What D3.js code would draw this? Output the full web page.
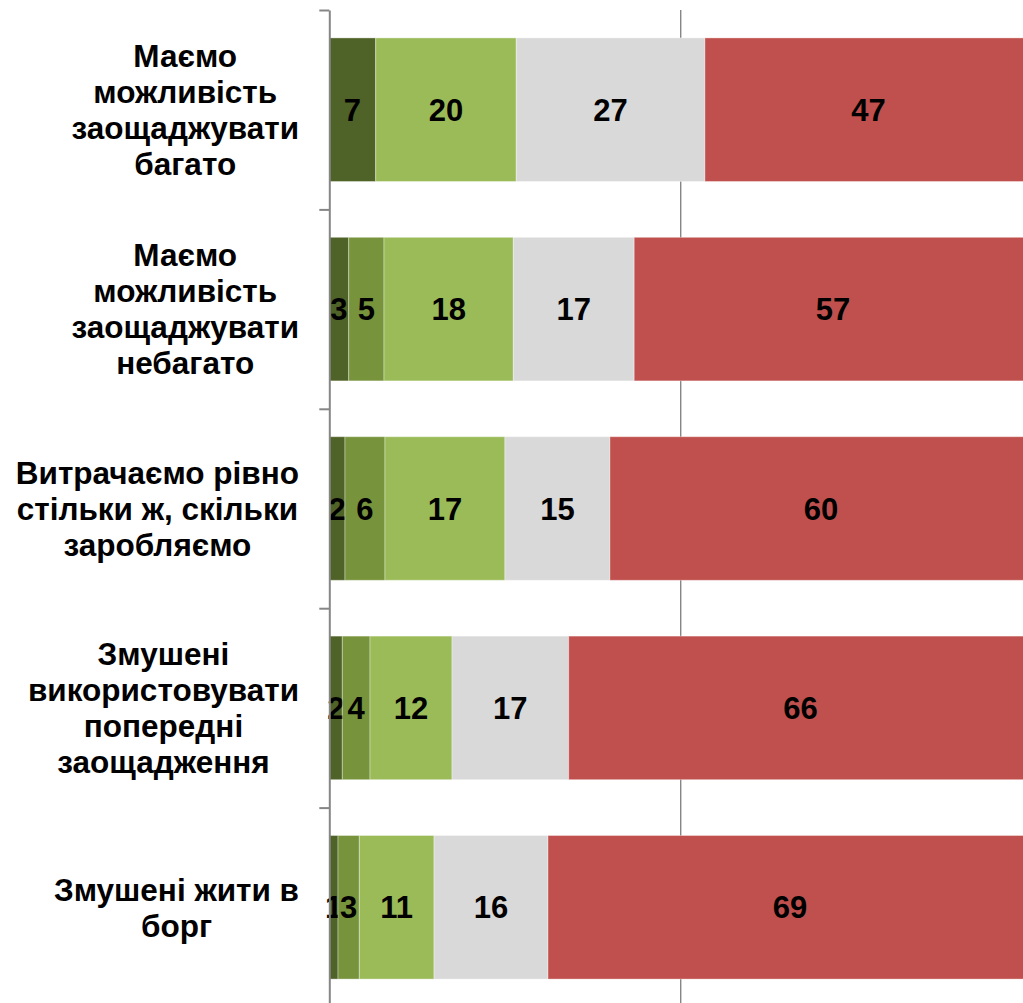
<!DOCTYPE html>
<html>
<head>
<meta charset="utf-8">
<title>Заощадження</title>
<script src="https://d3js.org/d3.v7.min.js"></script>
<style>
body {
	margin: 0;
	background-color: white;
}
svg {
	display: block;
	font-family: "Liberation Sans", Arial, sans-serif;
	font-weight: bold;
}
.axis path, .axis line {
	stroke: #868686;
	stroke-width: 2;
}
.grid {
	stroke: #868686;
	stroke-width: 1.4;
}
.seg {
	stroke: #fff;
	stroke-opacity: 0.35;
	stroke-width: 1;
}
.cat {
	font-size: 31.5px;
	fill: black;
}
.val {
	font-size: 31px;
	fill: black;
}
</style>
</head>
<body>
<script>
/* globals d3 */
const categories = [
	["Маємо", "можливість", "заощаджувати", "багато"],
	["Маємо", "можливість", "заощаджувати", "небагато"],
	["Витрачаємо рівно", "стільки ж, скільки", "заробляємо"],
	["Змушені", "використовувати", "попередні", "заощадження"],
	["Змушені жити в", "борг"],
];
const seriesNames = ["s1", "s2", "s3", "s4", "s5"];
const s1 = [6.6, 2.76, 2.23, 1.85, 1.24];
const s2 = [0, 5.02, 5.69, 3.94, 3.03];
const s3 = [20.0, 18.4, 17.07, 11.67, 10.63];
const s4 = [26.85, 17.2, 14.94, 16.6, 16.22];
const s5 = [46.6, 56.6, 60.07, 66.0, 68.9];
const colors = ["#4f6228", "#77933c", "#9bbb59", "#d9d9d9", "#c0504d"];
const gridValues = [50];

(function() {
"use strict";
function main()
{
	const width = 1023, height = 1003;
	const margin = {top: 10, left: 329.3, bottom: -4};
	const labelRight = 299;

	const rows = categories.map((c, i) => ({
		i: i, s1: s1[i], s2: s2[i], s3: s3[i], s4: s4[i], s5: s5[i]
	}));
	const stack = d3.stack().keys(seriesNames)(rows);

	const x = d3.scaleLinear([0, 100], [margin.left, margin.left + 702.8]);
	const y = d3.scaleBand(d3.range(categories.length), [margin.top, height - margin.bottom])
		.paddingInner(0.28)
		.paddingOuter(0.14);
	const yEdge = d3.scaleLinear([0, categories.length], [margin.top, height - margin.bottom]);

	const svg = d3.select("body")
		.append("svg")
			.attr("width", width)
			.attr("height", height);

	svg.selectAll("line.grid")
		.data(gridValues)
		.join("line")
			.attr("class", "grid")
			.attr("x1", d => x(d))
			.attr("x2", d => x(d))
			.attr("y1", margin.top)
			.attr("y2", height);

	const layer = svg.selectAll("g.layer")
		.data(stack)
		.join("g")
			.attr("class", "layer")
			.attr("fill", (d, i) => colors[i]);

	layer.selectAll("rect")
		.data(d => d.filter(p => p[1] > p[0]))
		.join("rect")
			.attr("class", "seg")
			.attr("x", d => x(d[0]))
			.attr("y", d => y(d.data.i))
			.attr("width", d => x(d[1]) - x(d[0]))
			.attr("height", y.bandwidth());

	layer.selectAll("text")
		.data(d => d.filter(p => p[1] > p[0]))
		.join("text")
			.attr("class", "val")
			.attr("text-anchor", "middle")
			.attr("dy", "0.36em")
			.attr("x", d => (x(d[0]) + x(Math.min(d[1], 100))) / 2)
			.attr("y", d => y(d.data.i) + y.bandwidth() / 2)
			.text(d => Math.round(d[1] - d[0]));

	svg.append("g")
		.attr("class", "axis")
		.attr("transform", "translate(" + margin.left + ",0)")
		.call(d3.axisLeft(yEdge)
			.tickValues(d3.range(categories.length + 1))
			.tickFormat("")
			.tickSize(10)
			.tickSizeOuter(0));

	const lineH = 36;
	const cat = svg.selectAll("text.cat")
		.data(categories)
		.join("text")
			.attr("class", "cat")
			.attr("text-anchor", "middle");
	cat.each(function(lines, i) {
		const t = d3.select(this);
		const cy = y(i) + y.bandwidth() / 2;
		const top = cy - (lines.length - 1) * lineH / 2;
		lines.forEach((s, j) => {
			t.append("tspan")
				.attr("y", top + j * lineH)
				.attr("dy", "0.36em")
				.text(s);
		});
		let w = 0;
		t.selectAll("tspan").each(function() {
			w = Math.max(w, this.getComputedTextLength());
		});
		t.selectAll("tspan").attr("x", labelRight - w / 2);
	});
}
window.addEventListener("DOMContentLoaded", main);
})();
</script>
</body>
</html>
